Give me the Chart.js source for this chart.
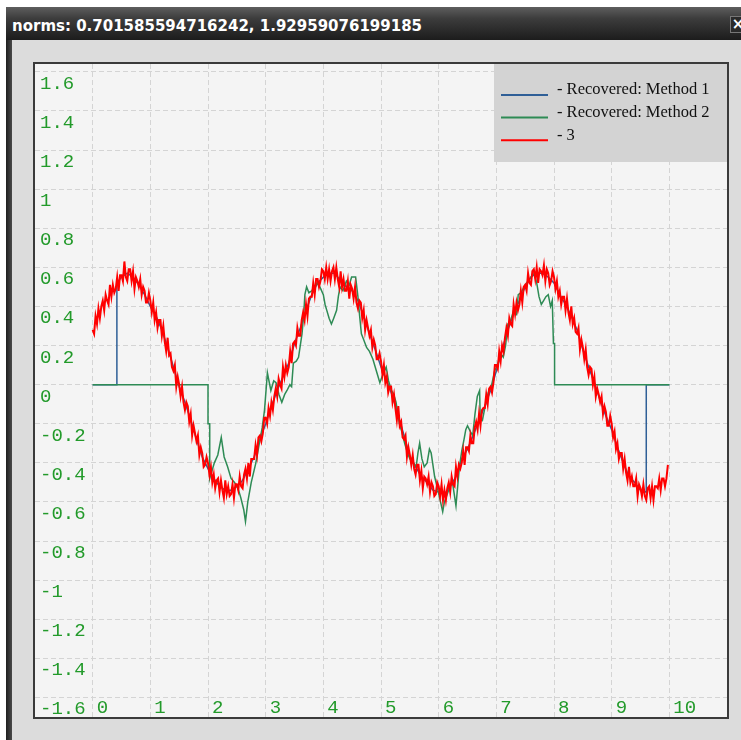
<!DOCTYPE html>
<html>
<head>
<meta charset="utf-8">
<title>norms</title>
<script src="https://cdn.jsdelivr.net/npm/chart.js@4.4.1/dist/chart.umd.min.js"></script>
<style>
    html, body { margin: 0; padding: 0; background: #fff; }
    body { width: 741px; height: 740px; position: relative; overflow: hidden; }
    .window { position: absolute; left: 6px; top: 7px; width: 760px; height: 760px; background: #dcdcdc; }
    .window .edge { position: absolute; left: 0; top: 0; width: 6px; height: 100%; background: linear-gradient(to right, #1e1e1e, #4a4a4a); }
    .titlebar {
        position: absolute; left: 0; top: 0; width: 100%; height: 33px; box-sizing: border-box;
        padding: 4px 0 0 6px; background: linear-gradient(to bottom, #5e5e5e 0%, #3c3c3c 35%, #1c1c1c 100%);
        color: #fff; font: bold 15px "DejaVu Sans", sans-serif; line-height: 30px; white-space: nowrap;
    }
    .close {
        position: absolute; left: 724px; top: 9px; width: 16px; height: 17px; box-sizing: border-box;
        background: #2a2a2a; border: 1px solid #777; color: #fff;
        font: bold 15px "DejaVu Sans", sans-serif; line-height: 15px; text-align: center;
    }
    canvas { position: absolute; left: 0; top: 0; }
</style>
</head>
<body>
<div class="window">
    <div class="edge"></div>
    <div class="titlebar">norms: 0.701585594716242, 1.92959076199185</div>
    <div class="close">×</div>
</div>
<canvas id="chart" width="741" height="740"></canvas>
<script>
const seriesLabels = ['Recovered: Method 1', 'Recovered: Method 2', '3'];

const xTickValues = [0, 1, 2, 3, 4, 5, 6, 7, 8, 9, 10];
const xTickLabels = ['0', '1', '2', '3', '4', '5', '6', '7', '8', '9', '10'];
const yTickValues = [-1.6, -1.4, -1.2, -1, -0.8, -0.6, -0.4, -0.2, 0, 0.2, 0.4, 0.6, 0.8, 1, 1.2, 1.4, 1.6];
const yTickLabels = ['-1.6', '-1.4', '-1.2', '-1', '-0.8', '-0.6', '-0.4', '-0.2', '0',
    '0.2', '0.4', '0.6', '0.8', '1', '1.2', '1.4', '1.6'];

// method 1: zero until 0.42, then the recovered wave, zero again after 9.6
const blueX = [0, 0.42, 0.42,
    0.5, 0.6, 0.7, 0.8, 0.9,
    1.0, 1.1, 1.2, 1.3, 1.4, 1.5, 1.6, 1.7, 1.8, 1.9,
    2.0, 2.1, 2.2, 2.3, 2.4, 2.5, 2.6, 2.7, 2.8, 2.9,
    3.0, 3.1, 3.2, 3.3, 3.4, 3.5, 3.6, 3.7, 3.8, 3.9,
    4.0, 4.1, 4.2, 4.3, 4.4, 4.5, 4.6, 4.7, 4.8, 4.9,
    5.0, 5.1, 5.2, 5.3, 5.4, 5.5, 5.6, 5.7, 5.8, 5.9,
    6.0, 6.1, 6.2, 6.3, 6.4, 6.5, 6.6, 6.7, 6.8, 6.9,
    7.0, 7.1, 7.2, 7.3, 7.4, 7.5, 7.6, 7.7, 7.8, 7.9,
    8.0, 8.1, 8.2, 8.3, 8.4, 8.5, 8.6, 8.7, 8.8, 8.9,
    9.0, 9.1, 9.2, 9.3, 9.4, 9.5, 9.6,
    9.6, 10];
const blueY = [0, 0, 0.52,
    0.55, 0.57, 0.55, 0.51, 0.46,
    0.40, 0.35, 0.28, 0.19, 0.09, -0.01, -0.09, -0.18, -0.28, -0.37,
    -0.43, -0.48, -0.52, -0.54, -0.54, -0.52, -0.49, -0.43, -0.37, -0.28,
    -0.20, -0.11, -0.03, 0.04, 0.11, 0.21, 0.29, 0.38, 0.46, 0.52,
    0.55, 0.57, 0.57, 0.53, 0.50, 0.48, 0.43, 0.35, 0.26, 0.18,
    0.09, 0.02, -0.06, -0.16, -0.26, -0.37, -0.42, -0.47, -0.50, -0.54,
    -0.55, -0.56, -0.52, -0.47, -0.38, -0.33, -0.26, -0.18, -0.11, -0.03,
    0.07, 0.18, 0.28, 0.36, 0.43, 0.50, 0.55, 0.57, 0.57, 0.55,
    0.52, 0.46, 0.41, 0.35, 0.28, 0.18, 0.09, 0.01, -0.08, -0.16,
    -0.23, -0.32, -0.40, -0.47, -0.50, -0.54, -0.55,
    0, 0];

// method 2: zero until 2.0, noisy wave, zero from 8.0
const greenX = [0, 2.0, 2.0, 2.03, 2.03, 2.11, 2.17, 2.23, 2.28, 2.34, 2.40, 2.46, 2.52, 2.57, 2.62, 2.65,
    2.69, 2.75, 2.83, 2.89, 2.94, 2.98, 3.03, 3.09, 3.14, 3.18, 3.23, 3.28, 3.33, 3.37, 3.42, 3.45,
    3.48, 3.53, 3.57, 3.60, 3.63, 3.66, 3.68, 3.71, 3.75, 3.80, 3.85, 3.89, 3.94, 4.00, 4.03, 4.06,
    4.10, 4.14, 4.18, 4.23, 4.26, 4.29, 4.34, 4.40, 4.45, 4.49, 4.56, 4.60, 4.63, 4.66, 4.70, 4.75,
    4.80, 4.86, 4.92, 4.98, 5.03, 5.09, 5.13, 5.18, 5.22, 5.26, 5.32, 5.37, 5.41, 5.46, 5.50, 5.56,
    5.61, 5.64, 5.67, 5.71, 5.75, 5.80, 5.84, 5.87, 5.93, 5.97, 6.01, 6.04, 6.07, 6.10, 6.16, 6.20,
    6.24, 6.27, 6.30, 6.33, 6.36, 6.40, 6.44, 6.47, 6.50, 6.55, 6.59, 6.63, 6.67, 6.71, 6.72, 6.76,
    6.80, 6.86, 6.92, 6.97, 7.02, 7.07, 7.12, 7.16, 7.20, 7.25, 7.30, 7.35, 7.38, 7.43, 7.48, 7.55,
    7.60, 7.66, 7.70, 7.74, 7.78, 7.82, 7.86, 7.90, 7.94, 7.97, 7.99, 8.01, 8.01, 10];
const greenY = [0, 0, -0.20, -0.20, -0.48, -0.40, -0.36, -0.27, -0.37, -0.42, -0.48, -0.50, -0.53, -0.58, -0.64, -0.70,
    -0.60, -0.50, -0.40, -0.30, -0.22, -0.13, 0.06, -0.03, 0.02, 0.01, -0.05, -0.09, -0.05, -0.03, 0.00, -0.01,
    0.11, 0.12, 0.14, 0.20, 0.26, 0.36, 0.46, 0.50, 0.47, 0.48, 0.50, 0.52, 0.50, 0.46, 0.41, 0.38,
    0.34, 0.31, 0.34, 0.38, 0.45, 0.50, 0.48, 0.53, 0.51, 0.55, 0.55, 0.45, 0.35, 0.26, 0.23, 0.19,
    0.17, 0.13, 0.07, 0.01, 0.05, 0.09, 0.02, -0.03, -0.05, -0.09, -0.20, -0.25, -0.30, -0.35, -0.38, -0.40,
    -0.42, -0.35, -0.30, -0.38, -0.42, -0.40, -0.33, -0.35, -0.47, -0.52, -0.57, -0.61, -0.65, -0.60, -0.55, -0.52,
    -0.50, -0.56, -0.62, -0.52, -0.42, -0.34, -0.28, -0.23, -0.21, -0.24, -0.26, -0.15, -0.06, -0.03, -0.16, -0.18,
    -0.12, -0.04, 0.00, 0.07, 0.10, 0.16, 0.14, 0.20, 0.31, 0.33, 0.38, 0.36, 0.46, 0.47, 0.50, 0.53,
    0.55, 0.57, 0.52, 0.45, 0.41, 0.43, 0.45, 0.46, 0.40, 0.43, 0.21, 0.21, 0, 0];

// series 3: sampled every 0.025 from x = 0 (8 samples per row)
const redStep = 0.025;
const redY = [
    0.28, 0.26, 0.35, 0.31, 0.39, 0.34, 0.40, 0.43,
    0.38, 0.46, 0.43, 0.41, 0.51, 0.45, 0.51, 0.47,
    0.49, 0.55, 0.48, 0.56, 0.56, 0.53, 0.63, 0.55,
    0.53, 0.59, 0.59, 0.53, 0.58, 0.49, 0.55, 0.53,
    0.50, 0.54, 0.46, 0.50, 0.48, 0.42, 0.42, 0.47,
    0.43, 0.37, 0.42, 0.33, 0.37, 0.29, 0.33, 0.33,
    0.25, 0.30, 0.22, 0.17, 0.24, 0.15, 0.16, 0.09,
    0.07, 0.10, -0.01, 0.04, 0.00, -0.06, -0.01, -0.09,
    -0.13, -0.09, -0.11, -0.19, -0.15, -0.26, -0.21, -0.25,
    -0.29, -0.26, -0.36, -0.32, -0.35, -0.42, -0.41, -0.37,
    -0.40, -0.46, -0.42, -0.50, -0.46, -0.53, -0.49, -0.48,
    -0.55, -0.49, -0.54, -0.58, -0.49, -0.56, -0.52, -0.57,
    -0.56, -0.51, -0.58, -0.51, -0.51, -0.54, -0.47, -0.52,
    -0.53, -0.46, -0.43, -0.48, -0.40, -0.47, -0.38, -0.38,
    -0.38, -0.31, -0.36, -0.27, -0.26, -0.29, -0.25, -0.17,
    -0.17, -0.20, -0.12, -0.16, -0.09, -0.13, -0.06, -0.02,
    -0.06, 0.03, 0.00, -0.02, 0.09, 0.04, 0.10, 0.06,
    0.09, 0.17, 0.11, 0.21, 0.22, 0.20, 0.29, 0.25,
    0.25, 0.33, 0.37, 0.33, 0.41, 0.35, 0.44, 0.45,
    0.45, 0.52, 0.46, 0.54, 0.54, 0.50, 0.53, 0.59,
    0.58, 0.54, 0.60, 0.54, 0.59, 0.53, 0.58, 0.60,
    0.54, 0.60, 0.54, 0.50, 0.58, 0.50, 0.54, 0.48,
    0.48, 0.53, 0.44, 0.51, 0.49, 0.44, 0.50, 0.42,
    0.39, 0.43, 0.42, 0.34, 0.38, 0.28, 0.33, 0.29,
    0.25, 0.28, 0.19, 0.23, 0.20, 0.13, 0.13, 0.16,
    0.12, 0.05, 0.10, 0.01, 0.04, -0.04, -0.01, -0.01,
    -0.09, -0.05, -0.12, -0.18, -0.11, -0.21, -0.19, -0.27,
    -0.28, -0.26, -0.37, -0.32, -0.36, -0.41, -0.36, -0.43,
    -0.46, -0.41, -0.41, -0.49, -0.44, -0.53, -0.47, -0.48,
    -0.51, -0.47, -0.55, -0.50, -0.52, -0.57, -0.56, -0.50,
    -0.52, -0.57, -0.51, -0.59, -0.54, -0.59, -0.53, -0.50,
    -0.55, -0.47, -0.51, -0.52, -0.42, -0.47, -0.41, -0.43,
    -0.40, -0.34, -0.41, -0.32, -0.32, -0.34, -0.26, -0.30,
    -0.30, -0.22, -0.19, -0.23, -0.15, -0.21, -0.13, -0.12,
    -0.12, -0.05, -0.10, -0.02, -0.01, -0.04, 0.01, 0.10,
    0.10, 0.08, 0.17, 0.12, 0.20, 0.17, 0.24, 0.29,
    0.25, 0.34, 0.31, 0.30, 0.41, 0.36, 0.42, 0.38,
    0.41, 0.48, 0.42, 0.50, 0.51, 0.48, 0.57, 0.52,
    0.51, 0.58, 0.59, 0.54, 0.60, 0.52, 0.59, 0.58,
    0.56, 0.61, 0.53, 0.59, 0.57, 0.51, 0.53, 0.58,
    0.55, 0.49, 0.53, 0.45, 0.48, 0.41, 0.45, 0.45,
    0.38, 0.44, 0.37, 0.33, 0.40, 0.31, 0.34, 0.27,
    0.26, 0.29, 0.18, 0.23, 0.19, 0.13, 0.18, 0.09,
    0.05, 0.09, 0.08, 0.00, 0.04, -0.06, -0.02, -0.05,
    -0.09, -0.06, -0.15, -0.11, -0.14, -0.21, -0.21, -0.16,
    -0.20, -0.27, -0.24, -0.33, -0.30, -0.38, -0.35, -0.35,
    -0.43, -0.38, -0.45, -0.49, -0.42, -0.50, -0.47, -0.52,
    -0.52, -0.48, -0.57, -0.51, -0.53, -0.57, -0.51, -0.57,
    -0.59, -0.53, -0.52, -0.58, -0.52, -0.59, -0.52, -0.52,
    -0.53, -0.48, -0.54, -0.48, -0.48, -0.52, -0.48, -0.41,
];

const toPoints = (xs, ys) => xs.map((x, i) => ({ x, y: ys[i] }));

const tickFont = { family: 'Liberation Mono', size: 19, lineHeight: 0.8 };
const tickColor = '#229a2a';
const gridColor = '#d4d4d4';

const plotBackground = {
    id: 'plotBackground',
    beforeDraw(chart) {
        const { ctx, chartArea: a } = chart;
        ctx.save();
        ctx.fillStyle = '#f4f4f4';
        ctx.fillRect(a.left, a.top, a.width, a.height);
        ctx.restore();
    },
};

const frameAndLegend = {
    id: 'frameAndLegend',
    afterDraw(chart) {
        const { ctx, chartArea: a } = chart;
        ctx.save();

        const boxW = 233;
        const boxX = a.right - boxW;
        ctx.fillStyle = '#d3d3d3';
        ctx.fillRect(boxX, a.top, boxW, 98);

        ctx.font = '16.5px "Liberation Serif", serif';
        ctx.textBaseline = 'middle';
        chart.data.datasets.forEach((ds, i) => {
            const y = a.top + 31 + i * 22.6;
            ctx.strokeStyle = ds.borderColor;
            ctx.lineWidth = 2;
            ctx.beginPath();
            ctx.moveTo(boxX + 7, y);
            ctx.lineTo(boxX + 54, y);
            ctx.stroke();
            ctx.fillStyle = '#111';
            ctx.fillText('- ' + ds.label, boxX + 63, y - 5);
        });

        ctx.strokeStyle = '#3a3a3a';
        ctx.lineWidth = 2;
        ctx.strokeRect(a.left - 1, a.top - 1, a.width + 2, a.height + 2);
        ctx.restore();
    },
};

new Chart(document.getElementById('chart'), {
    type: 'line',
    data: {
        datasets: [
            {
                label: seriesLabels[0],
                data: toPoints(blueX, blueY),
                borderColor: '#2f5f97',
                borderWidth: 1.5,
                order: 3,
            },
            {
                label: seriesLabels[1],
                data: toPoints(greenX, greenY),
                borderColor: '#2e8b55',
                borderWidth: 1.5,
                order: 2,
            },
            {
                label: seriesLabels[2],
                data: redY.map((y, i) => ({ x: i * redStep, y })),
                borderColor: '#ff0000',
                borderWidth: 2,
                order: 1,
            },
        ],
    },
    options: {
        responsive: false,
        animation: false,
        layout: { padding: { left: 25, top: 64, right: 14, bottom: 21 } },
        elements: { point: { radius: 0 }, line: { tension: 0 } },
        plugins: { legend: { display: false }, tooltip: { enabled: false } },
        scales: {
            x: {
                type: 'linear',
                min: -1,
                max: 11,
                afterBuildTicks: (scale) => {
                    scale.ticks = xTickValues.map((value) => ({ value }));
                },
                grid: { color: gridColor, lineWidth: 1, drawTicks: false },
                border: { display: false, dash: [5, 3] },
                ticks: {
                    mirror: true,
                    align: 'start',
                    labelOffset: 4,
                    padding: 1,
                    autoSkip: false,
                    maxRotation: 0,
                    color: tickColor,
                    font: tickFont,
                    callback: (value, index) => xTickLabels[index],
                },
            },
            y: {
                type: 'linear',
                min: -1.70,
                max: 1.64,
                afterBuildTicks: (scale) => {
                    scale.ticks = yTickValues.map((value) => ({ value }));
                },
                grid: { color: gridColor, lineWidth: 1, drawTicks: false },
                border: { display: false, dash: [5, 3] },
                ticks: {
                    mirror: true,
                    padding: 5,
                    labelOffset: 12,
                    color: tickColor,
                    font: tickFont,
                    callback: (value, index) => yTickLabels[index],
                },
            },
        },
    },
    plugins: [plotBackground, frameAndLegend],
});
</script>
</body>
</html>
